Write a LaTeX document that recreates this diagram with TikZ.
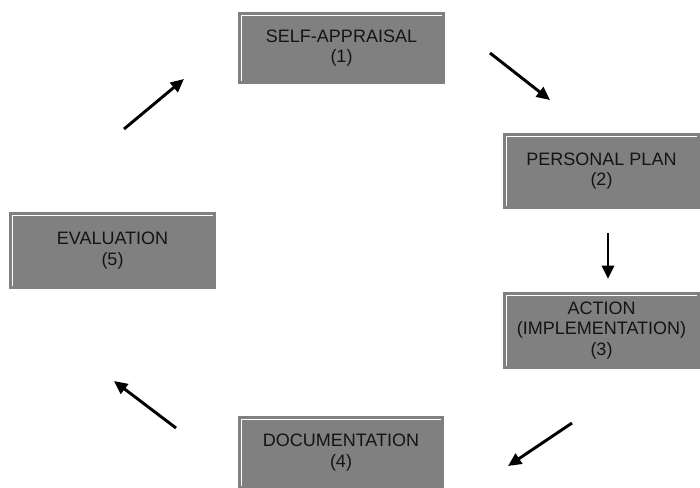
\documentclass[tikz,border=0pt]{standalone}
\usepackage{fontspec}
\setmainfont{Liberation Sans}
\usetikzlibrary{arrows.meta}
\definecolor{boxgray}{HTML}{808080}
\definecolor{inkgray}{HTML}{141414}
\tikzset{
  stage/.style={draw=boxgray, fill=boxgray, line width=1pt, text=inkgray,
    align=center, inner sep=0pt, font=\fontsize{13.5}{15.5}\selectfont,
    path picture={\draw[white, line width=0.8pt]
      ([xshift=1.6pt,yshift=1.6pt]path picture bounding box.south west) |-
      ([xshift=-1.6pt,yshift=-1.6pt]path picture bounding box.north east);}},
  cyclearrow/.style={line width=2.2pt, -{Triangle[length=10pt,width=9pt]}}
}

\begin{document}
\begin{tikzpicture}[x=0.75pt,y=-0.75pt]
\useasboundingbox (0,0) rectangle (700,487);
% the five stages
\node [stage, minimum width=153.75pt, minimum height=52.5pt] (appraisal) at (341.5,48) {SELF-APPRAISAL\\(1)};
\node [stage, minimum width=146.25pt, minimum height=55.5pt] (plan) at (601.5,171) {PERSONAL PLAN\\(2)};
\node [stage, minimum width=146.25pt, minimum height=56.25pt] (action) at (601.5,330.5) {ACTION\\(IMPLEMENTATION)\\(3)};
\node [stage, minimum width=153pt, minimum height=53.25pt] (documentation) at (341,452.5) {DOCUMENTATION\\(4)};
\node [stage, minimum width=153.75pt, minimum height=56.25pt] (evaluation) at (112.5,250.5) {EVALUATION\\(5)};
% arrow ends
\coordinate (a12s) at (490,53);
\coordinate (a12e) at (550,100);
\coordinate (a23s) at (608,233);
\coordinate (a23e) at (608,279);
\coordinate (a34s) at (572,423);
\coordinate (a34e) at (508,466);
\coordinate (a45s) at (176,428);
\coordinate (a45e) at (114,381);
\coordinate (a51s) at (124,129);
\coordinate (a51e) at (184,79);
\draw [cyclearrow] (a12s) to (a12e);
\draw [cyclearrow] (a23s) to (a23e);
\draw [cyclearrow] (a34s) to (a34e);
\draw [cyclearrow] (a45s) to (a45e);
\draw [cyclearrow] (a51s) to (a51e);
\end{tikzpicture}
\end{document}
